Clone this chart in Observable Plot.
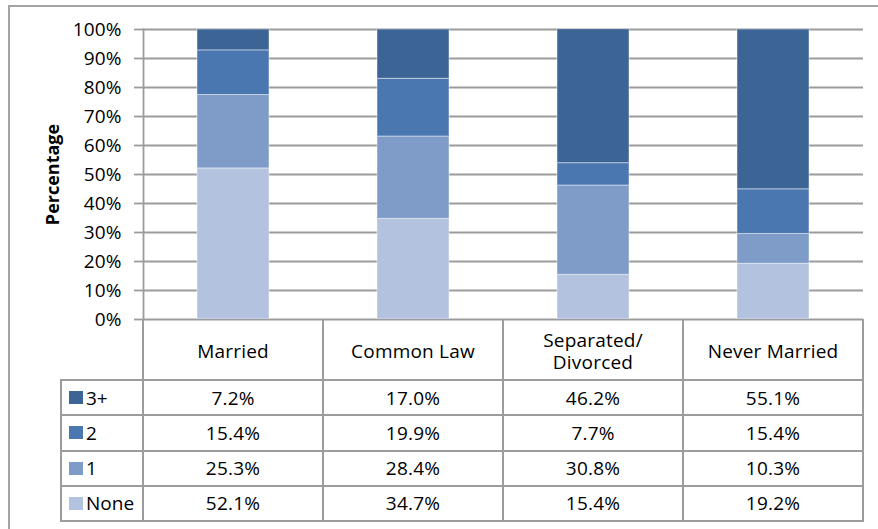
<!DOCTYPE html>
<html>
<head>
<meta charset="utf-8">
<script src="https://cdn.jsdelivr.net/npm/d3@7"></script>
<script src="https://cdn.jsdelivr.net/npm/@observablehq/plot@0.6"></script>
<style>
  html, body { margin: 0; padding: 0; background: #fff; }
  #wrap { position: relative; width: 878px; height: 529px; overflow: hidden; font-family: "Open Sans", "Noto Sans", sans-serif; color: #000; }
  #frame { position: absolute; left: 8px; top: 5px; width: 900px; height: 560px; border-left: 2px solid #a3a3a3; border-top: 2px solid #a3a3a3; box-sizing: border-box; }
  #chart { position: absolute; left: 0; top: 0; }
  #chart svg text { letter-spacing: 0.1px; }
  #chart svg g[aria-label="y-axis label"] text { font-weight: bold; font-size: 18px; letter-spacing: 0; }
  .ln { position: absolute; background: #9c9c9c; }
  .cell { position: absolute; display: flex; align-items: center; justify-content: center; text-align: center; font-size: 19px; letter-spacing: 0.2px; line-height: 22px; white-space: pre; }
  .leg { position: absolute; display: flex; align-items: center; font-size: 19px; }
  .sw { width: 14px; height: 13px; margin-right: 3px; flex: none; }
</style>
</head>
<body>
<div id="wrap">
  <div id="frame"></div>
  <div id="chart"></div>
  <div id="table"></div>
</div>
<script>
// ---- Data ----
const categories = ["Married", "Common Law", "Separated/\nDivorced", "Never Married"];
const series = ["3+", "2", "1", "None"];           // top-to-bottom in table
const v3plus = [7.2, 17.0, 46.2, 55.1];
const v2     = [15.4, 19.9, 7.7, 15.4];
const v1     = [25.3, 28.4, 30.8, 10.3];
const vNone  = [52.1, 34.7, 15.4, 19.2];
const yTicks = [0, 10, 20, 30, 40, 50, 60, 70, 80, 90, 100];
const colors = ["#3C6495", "#4A77B0", "#7F9CC8", "#B3C2DE"];

const valuesBySeries = {"3+": v3plus, "2": v2, "1": v1, "None": vNone};

// long table for stacking: None at bottom, then 1, 2, 3+
const stackOrder = ["None", "1", "2", "3+"];
const data = [];
categories.forEach((c, i) => {
  stackOrder.forEach(s => data.push({category: c, series: s, value: valuesBySeries[s][i]}));
});

const grid = "#9c9c9c";

const chart = Plot.plot({
  width: 878,
  height: 322,
  marginTop: 29,
  marginBottom: 3,
  marginLeft: 143,
  marginRight: 15,
  style: {fontFamily: "'Open Sans', 'Noto Sans', sans-serif", fontSize: "19px", color: "#000", background: "transparent", overflow: "visible"},
  x: {domain: categories, paddingInner: 0.6, paddingOuter: 0.3, axis: null},
  y: {domain: [0, 100]},
  color: {domain: series, range: colors},
  marks: [
    Plot.ruleY(yTicks, {stroke: grid, strokeWidth: 1.8}),
    Plot.barY(data, {x: "category", y: "value", fill: "series", stroke: "#ffffff", strokeOpacity: 0.45, strokeWidth: 1, clip: true}),
    Plot.frame({anchor: "left", stroke: grid, strokeWidth: 1.8}),
    Plot.axisY({
      ticks: yTicks,
      tickFormat: d => d + "%",
      tickSize: 9,
      tickPadding: 13,
      stroke: grid,
      strokeWidth: 1.8,
      fill: "#000",
      fontSize: 19,
      label: "Percentage",
      labelAnchor: "center",
      labelArrow: "none",
      labelOffset: 97
    })
  ]
});
document.getElementById("chart").appendChild(chart);

// ---- Data table built from the plot's own x/y scales ----
const xs = chart.scale("x");
const ys = chart.scale("y");
const step = xs.step, bw = xs.bandwidth;
const bounds = categories.map(c => xs.apply(c) - (step - bw) / 2);
const right = bounds[bounds.length - 1] + step;
const y0 = ys.apply(0);
const headerH = 61;
const rowH = 35.25;
const legendW = 82;
const left = bounds[0] - legendW;
const bottom = y0 + headerH + rowH * series.length;
const lw = 2;

const tbl = document.getElementById("table");
function line(x, y, w, h) {
  const d = document.createElement("div");
  d.className = "ln";
  Object.assign(d.style, {left: x + "px", top: y + "px", width: w + "px", height: h + "px"});
  tbl.appendChild(d);
}
// vertical lines at column boundaries
[...bounds, right].forEach(b => line(b - lw / 2, y0, lw, bottom - y0 + lw / 2));
// left edge of legend column
line(left - lw / 2, y0 + headerH - lw / 2, lw, bottom - (y0 + headerH) + lw);
// horizontal lines
for (let r = 0; r <= series.length; r++) {
  const yy = y0 + headerH + r * rowH;
  line(left - lw / 2, yy - lw / 2, right - left + lw, lw);
}

function cell(text, x, y, w, h) {
  const d = document.createElement("div");
  d.className = "cell";
  d.textContent = text;
  Object.assign(d.style, {left: x + "px", top: y + "px", width: w + "px", height: h + "px"});
  tbl.appendChild(d);
}
// header row: category names
categories.forEach((c, i) => cell(c, bounds[i], y0 + 1, step, headerH));
// data rows
series.forEach((s, r) => {
  const yy = y0 + headerH + r * rowH;
  const lg = document.createElement("div");
  lg.className = "leg";
  Object.assign(lg.style, {left: (left + 8) + "px", top: yy + "px", height: rowH + "px"});
  const sw = document.createElement("span");
  sw.className = "sw";
  sw.style.background = colors[r];
  lg.appendChild(sw);
  lg.appendChild(document.createTextNode(s));
  tbl.appendChild(lg);
  valuesBySeries[s].forEach((v, i) => cell(v.toFixed(1) + "%", bounds[i], yy, step, rowH));
});
</script>
</body>
</html>
